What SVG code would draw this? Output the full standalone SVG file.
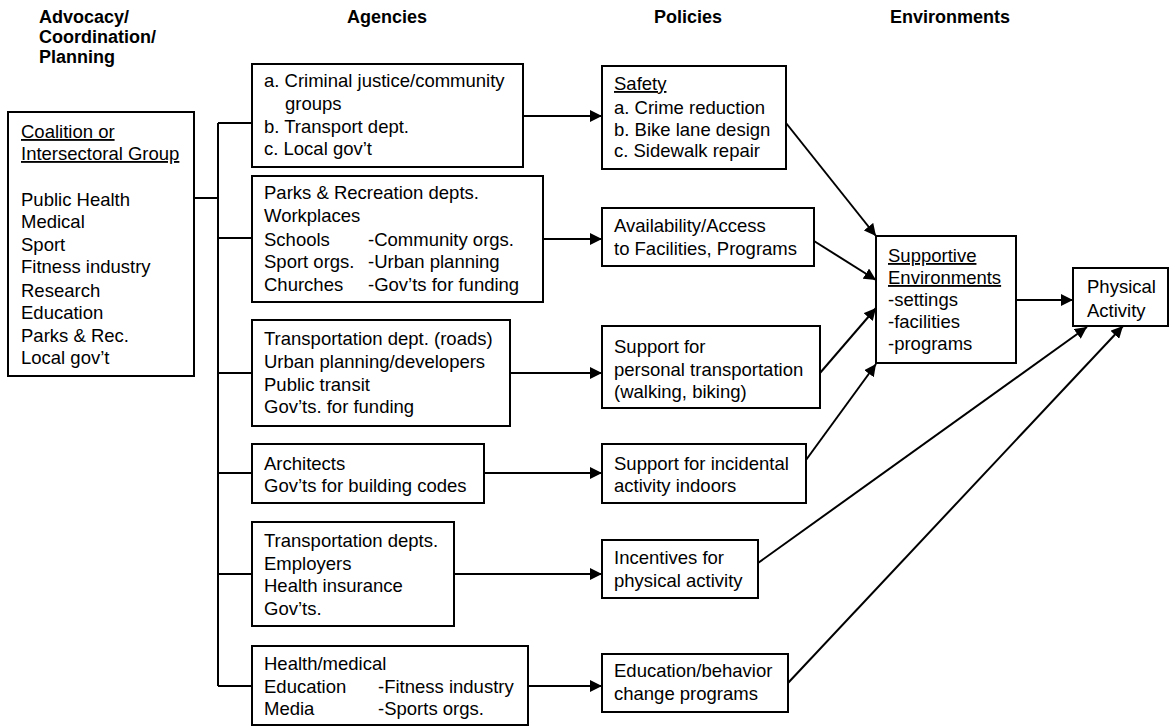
<svg xmlns="http://www.w3.org/2000/svg" width="1171" height="727" viewBox="0 0 1171 727">
<defs>
<style>
text{font-family:"Liberation Sans",Arial,sans-serif;font-size:18.5px;fill:#000}
.h{font-weight:bold;font-size:18px}
.u{text-decoration:underline}
rect{fill:#fff;stroke:#000;stroke-width:2}
.c path{fill:none;stroke:#000;stroke-width:2}
.a{marker-end:url(#ah)}
</style>
<marker id="ah" viewBox="0 0 12 12" refX="12" refY="6" markerWidth="12" markerHeight="12" markerUnits="userSpaceOnUse" orient="auto">
<path d="M0,0 L12,6 L0,12 Z" fill="#000"/>
</marker>
</defs>
<rect x="0" y="0" width="1171" height="727" style="fill:#fff;stroke:none"/>
<g id="headers">
<text class="h" x="39" y="23">Advocacy/</text>
<text class="h" x="39" y="43">Coordination/</text>
<text class="h" x="39" y="63">Planning</text>
<text class="h" x="347" y="23">Agencies</text>
<text class="h" x="654" y="23">Policies</text>
<text class="h" x="890" y="23">Environments</text>
</g>
<g class="c" id="connectors">
<path d="M194,198 H218"/>
<path d="M218,123 V686"/>
<path d="M218,123 H252"/>
<path d="M218,238 H252"/>
<path d="M218,373 H252"/>
<path d="M218,473 H252"/>
<path d="M218,574 H252"/>
<path d="M218,686 H252"/>
<path class="a" d="M523,116 H602"/>
<path class="a" d="M543,239 H602"/>
<path class="a" d="M510,373 H602"/>
<path class="a" d="M484,473 H602"/>
<path class="a" d="M454,574 H602"/>
<path class="a" d="M528,686 H602"/>
<path class="a" d="M786,123 L876,236"/>
<path class="a" d="M814,241 L876,280"/>
<path class="a" d="M820,373 L876,308"/>
<path class="a" d="M806,460 L876,364"/>
<path class="a" d="M758,563 L1087,327"/>
<path class="a" d="M788,683 L1123,326"/>
<path class="a" d="M1016,300 H1073"/>
</g>
<g id="coalition">
<rect x="8" y="112" width="186" height="264"/>
<text class="u" x="21" y="138">Coalition or</text>
<text class="u" x="21" y="160">Intersectoral Group</text>
<text x="21" y="206">Public Health</text>
<text x="21" y="228">Medical</text>
<text x="21" y="251">Sport</text>
<text x="21" y="273">Fitness industry</text>
<text x="21" y="297">Research</text>
<text x="21" y="319">Education</text>
<text x="21" y="342">Parks &amp; Rec.</text>
<text x="21" y="364">Local gov’t</text>
</g>
<g id="agency1">
<rect x="252" y="64" width="271" height="103"/>
<text x="264" y="87">a. Criminal justice/community</text>
<text x="285" y="110">groups</text>
<text x="264" y="133">b. Transport dept.</text>
<text x="264" y="155">c. Local gov’t</text>
</g>
<g id="agency2">
<rect x="252" y="176" width="291" height="126"/>
<text x="264" y="199">Parks &amp; Recreation depts.</text>
<text x="264" y="222">Workplaces</text>
<text x="264" y="246">Schools</text>
<text x="368" y="246">-Community orgs.</text>
<text x="264" y="268">Sport orgs.</text>
<text x="368" y="268">-Urban planning</text>
<text x="264" y="291">Churches</text>
<text x="368" y="291">-Gov’ts for funding</text>
</g>
<g id="agency3">
<rect x="252" y="320" width="258" height="106"/>
<text x="264" y="345">Transportation dept. (roads)</text>
<text x="264" y="368">Urban planning/developers</text>
<text x="264" y="391">Public transit</text>
<text x="264" y="413">Gov’ts. for funding</text>
</g>
<g id="agency4">
<rect x="252" y="444" width="232" height="59"/>
<text x="264" y="470">Architects</text>
<text x="264" y="492">Gov’ts for building codes</text>
</g>
<g id="agency5">
<rect x="252" y="522" width="202" height="104"/>
<text x="264" y="547">Transportation depts.</text>
<text x="264" y="570">Employers</text>
<text x="264" y="592">Health insurance</text>
<text x="264" y="615">Gov’ts.</text>
</g>
<g id="agency6">
<rect x="252" y="646" width="276" height="79"/>
<text x="264" y="670">Health/medical</text>
<text x="264" y="693">Education</text>
<text x="378" y="693">-Fitness industry</text>
<text x="264" y="715">Media</text>
<text x="378" y="715">-Sports orgs.</text>
</g>
<g id="policy-safety">
<rect x="602" y="66" width="184" height="103"/>
<text class="u" x="614" y="90">Safety</text>
<text x="614" y="114">a. Crime reduction</text>
<text x="614" y="136">b. Bike lane design</text>
<text x="614" y="157">c. Sidewalk repair</text>
</g>
<g id="policy-access">
<rect x="602" y="208" width="212" height="58"/>
<text x="614" y="232">Availability/Access</text>
<text x="614" y="255">to Facilities, Programs</text>
</g>
<g id="policy-transport">
<rect x="602" y="326" width="218" height="82"/>
<text x="614" y="353">Support for</text>
<text x="614" y="376">personal transportation</text>
<text x="614" y="398">(walking, biking)</text>
</g>
<g id="policy-incidental">
<rect x="602" y="444" width="204" height="59"/>
<text x="614" y="470">Support for incidental</text>
<text x="614" y="492">activity indoors</text>
</g>
<g id="policy-incentives">
<rect x="602" y="540" width="156" height="58"/>
<text x="614" y="564">Incentives for</text>
<text x="614" y="587">physical activity</text>
</g>
<g id="policy-education">
<rect x="602" y="654" width="186" height="58"/>
<text x="614" y="677">Education/behavior</text>
<text x="614" y="700">change programs</text>
</g>
<g id="environments">
<rect x="876" y="236" width="140" height="127"/>
<text class="u" x="888" y="262">Supportive</text>
<text class="u" x="888" y="284">Environments</text>
<text x="888" y="306">-settings</text>
<text x="888" y="328">-facilities</text>
<text x="888" y="350">-programs</text>
</g>
<g id="physical-activity">
<rect x="1073" y="268" width="95" height="58"/>
<text x="1087" y="293">Physical</text>
<text x="1087" y="317">Activity</text>
</g>
</svg>
